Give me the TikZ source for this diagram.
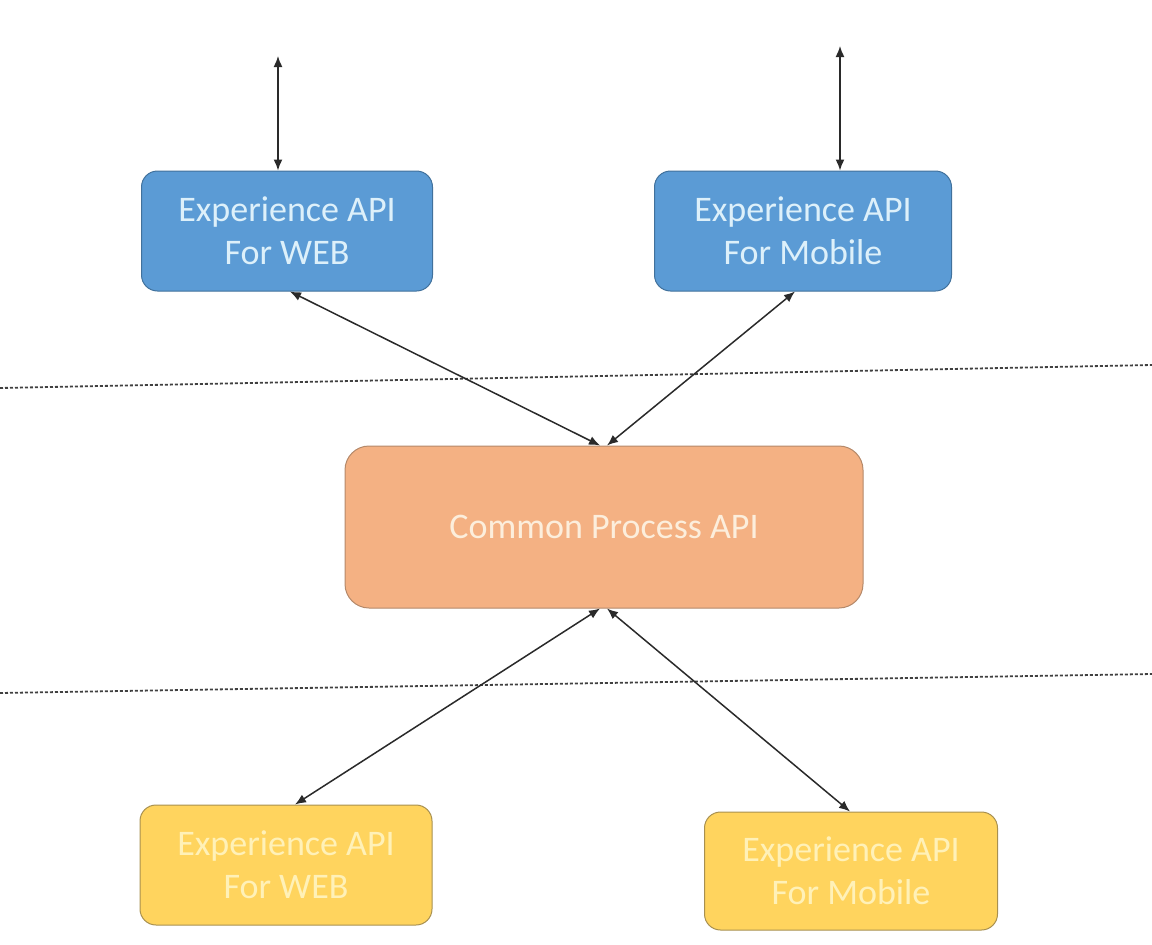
\documentclass[tikz,border=0pt]{standalone}
\usepackage{fontspec}
\setmainfont{Carlito}
\usetikzlibrary{arrows.meta}
\definecolor{bluefill}{HTML}{5B9BD5}
\definecolor{blueline}{HTML}{41719C}
\definecolor{bluetext}{HTML}{DDF0FA}
\definecolor{orangefill}{HTML}{F4B183}
\definecolor{orangeline}{HTML}{B4896A}
\definecolor{orangetext}{HTML}{FCEEDC}
\definecolor{yellowfill}{HTML}{FFD45E}
\definecolor{yellowline}{HTML}{A89050}
\definecolor{yellowtext}{HTML}{FFF1B8}
\definecolor{arrowcol}{HTML}{2A2A2A}
\tikzset{
  box/.style={draw, line width=1pt, rounded corners=16pt, align=center, inner sep=0pt,
    font=\fontsize{36}{43}\selectfont},
  bluebox/.style={box, fill=bluefill, draw=blueline, text=bluetext},
  orangebox/.style={box, fill=orangefill, draw=orangeline, text=orangetext, rounded corners=24pt},
  yellowbox/.style={box, fill=yellowfill, draw=yellowline, text=yellowtext},
  link/.style={arrowcol, line width=1.5pt, {Latex[length=11pt,width=9pt]}-{Latex[length=11pt,width=9pt]}},
  sep/.style={black!75, line width=1.8pt, dash pattern=on 3pt off 2pt}
}
\begin{document}
\begin{tikzpicture}[x=1pt,y=-1pt]
\useasboundingbox (0,0) rectangle (1152,945);
\node[bluebox, minimum width=291pt, minimum height=120pt] (tl) at (287,231) {Experience API\\For WEB};
\node[bluebox, minimum width=297pt, minimum height=120pt] (tr) at (803,231) {Experience API\\For Mobile};
\node[orangebox, minimum width=518pt, minimum height=162pt] (cp) at (604,527) {Common Process API};
\node[yellowbox, minimum width=292pt, minimum height=120pt] (bl) at (286,865) {Experience API\\For WEB};
\node[yellowbox, minimum width=293pt, minimum height=118pt] (br) at (851,871) {Experience API\\For Mobile};
\coordinate (tlup) at (278,56);
\coordinate (trup) at (840,46);
\coordinate (s1a) at (0,388);
\coordinate (s1b) at (1152,365);
\coordinate (s2a) at (0,693);
\coordinate (s2b) at (1152,674);
\draw[sep] (s1a) -- (s1b);
\draw[sep] (s2a) -- (s2b);
\draw[link] (tlup) -- (tl.north -| tlup);
\draw[link] (trup) -- (tr.north -| trup);
\draw[link] ([xshift=3pt]tl.south) -- ([xshift=-4pt]cp.north);
\draw[link] ([xshift=-8pt]tr.south) -- ([xshift=3pt]cp.north);
\draw[link] ([xshift=-4pt]cp.south) -- ([xshift=9pt]bl.north);
\draw[link] ([xshift=3pt]cp.south) -- ([xshift=-1pt]br.north);
\end{tikzpicture}
\end{document}
